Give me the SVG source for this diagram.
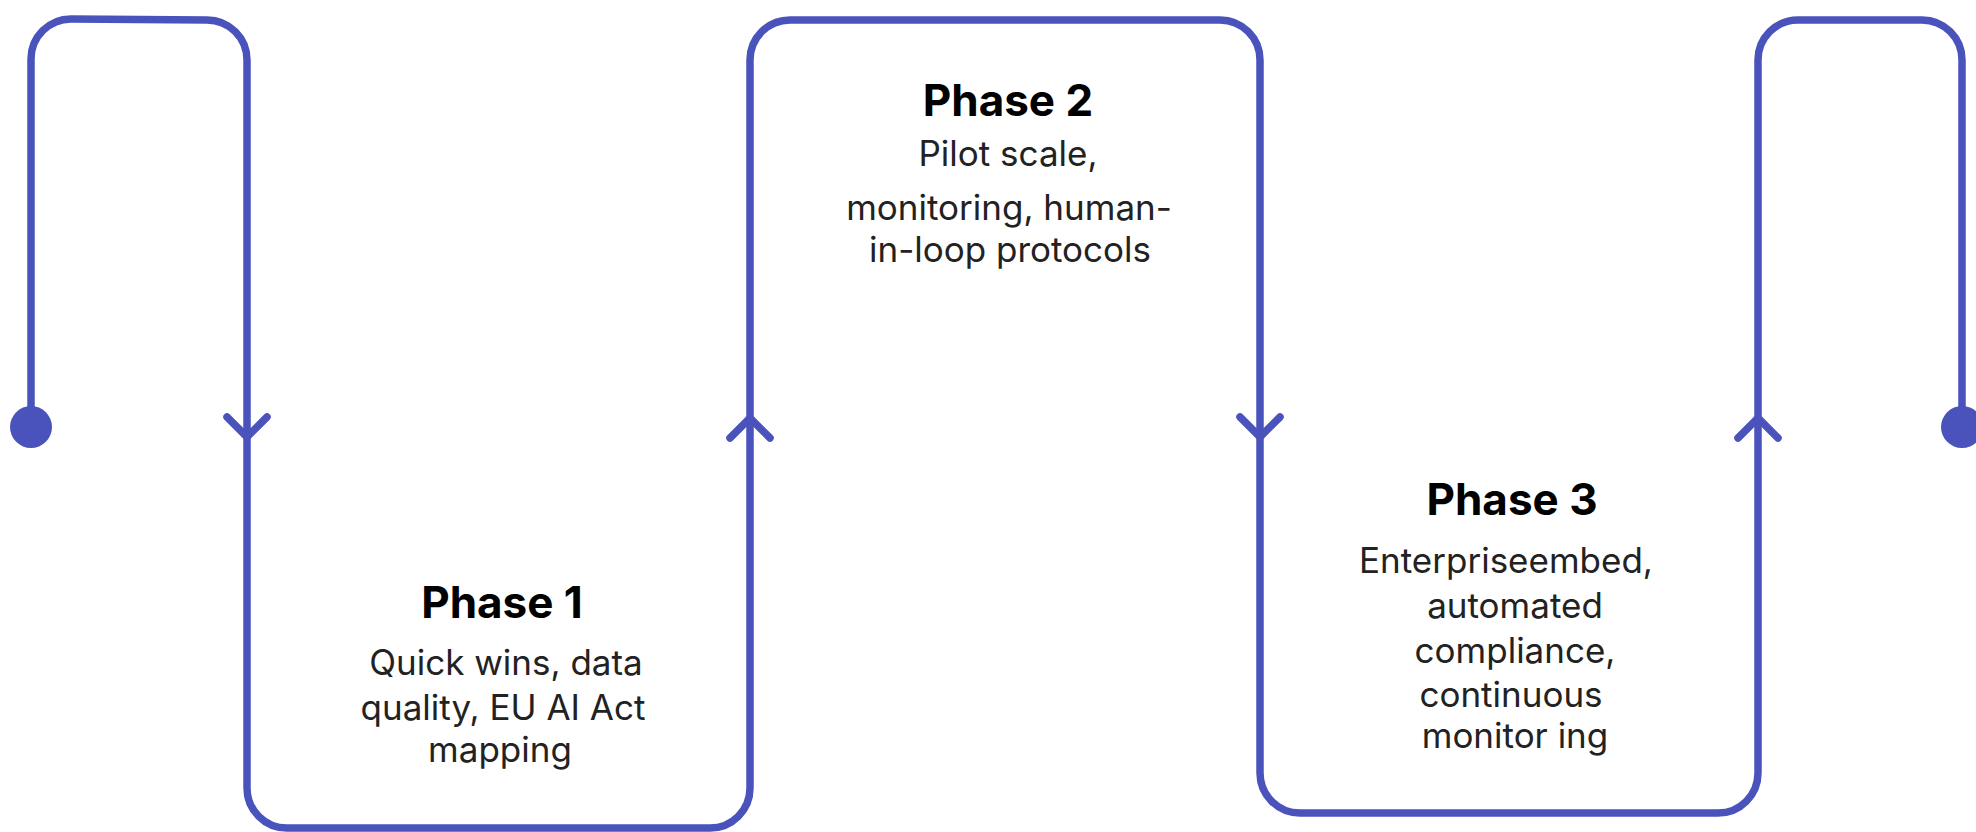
<svg xmlns="http://www.w3.org/2000/svg" width="1976" height="832" viewBox="0 0 1976 832">
  <style>
    .flow { fill: none; stroke: #4A53BC; stroke-width: 7.5; stroke-linejoin: round; stroke-linecap: round; }
    .dot { fill: #4A53BC; }
    .title { font-family: Inter, "Noto Sans", "Liberation Sans", sans-serif; font-weight: 700; font-size: 44px; fill: #000; text-anchor: middle; }
    .body { font-family: Inter, "Noto Sans", "Liberation Sans", sans-serif; font-weight: 400; font-size: 35px; fill: #222; text-anchor: middle; }
  </style>
  <rect width="1976" height="832" fill="#fff"/>

  <!-- serpentine flow line with direction chevrons and end dots -->
  <g id="connectors">
    <path class="flow" d="M31 427 V59 A40 40 0 0 1 71 19 L207 20 A40 40 0 0 1 247 60 V788 A40 40 0 0 0 287 828 H710 A40 40 0 0 0 750 788 V60 A40 40 0 0 1 790 20 H1220 A40 40 0 0 1 1260 60 V773 A40 40 0 0 0 1300 813 H1718 A40 40 0 0 0 1758 773 V60 A40 40 0 0 1 1798 20 H1922 A40 40 0 0 1 1962 60 V427"/>
    <path class="flow" d="M227 417 L247 437 L267 417"/>
    <path class="flow" d="M730 438 L750 418 L770 438"/>
    <path class="flow" d="M1240 417 L1260 437 L1280 417"/>
    <path class="flow" d="M1738 438 L1758 418 L1778 438"/>
    <circle class="dot" cx="31" cy="427" r="21"/>
    <circle class="dot" cx="1962" cy="427" r="21"/>
  </g>

  <g id="phase1">
    <text class="title" x="502" y="618">Phase 1</text>
    <text class="body" x="506" y="675">Quick wins, data</text>
    <text class="body" x="503" y="720">quality, EU AI Act</text>
    <text class="body" x="500" y="762">mapping</text>
  </g>

  <g id="phase2">
    <text class="title" x="1008" y="116">Phase 2</text>
    <text class="body" x="1008" y="166">Pilot scale,</text>
    <text class="body" x="1009" y="220">monitoring, human-</text>
    <text class="body" x="1010" y="262">in-loop protocols</text>
  </g>

  <g id="phase3">
    <text class="title" x="1512" y="515">Phase 3</text>
    <text class="body" x="1506" y="573">Enterpriseembed,</text>
    <text class="body" x="1515" y="618">automated</text>
    <text class="body" x="1515" y="663">compliance,</text>
    <text class="body" x="1511" y="707">continuous</text>
    <text class="body" x="1515" y="748">monitor ing</text>
  </g>
</svg>
